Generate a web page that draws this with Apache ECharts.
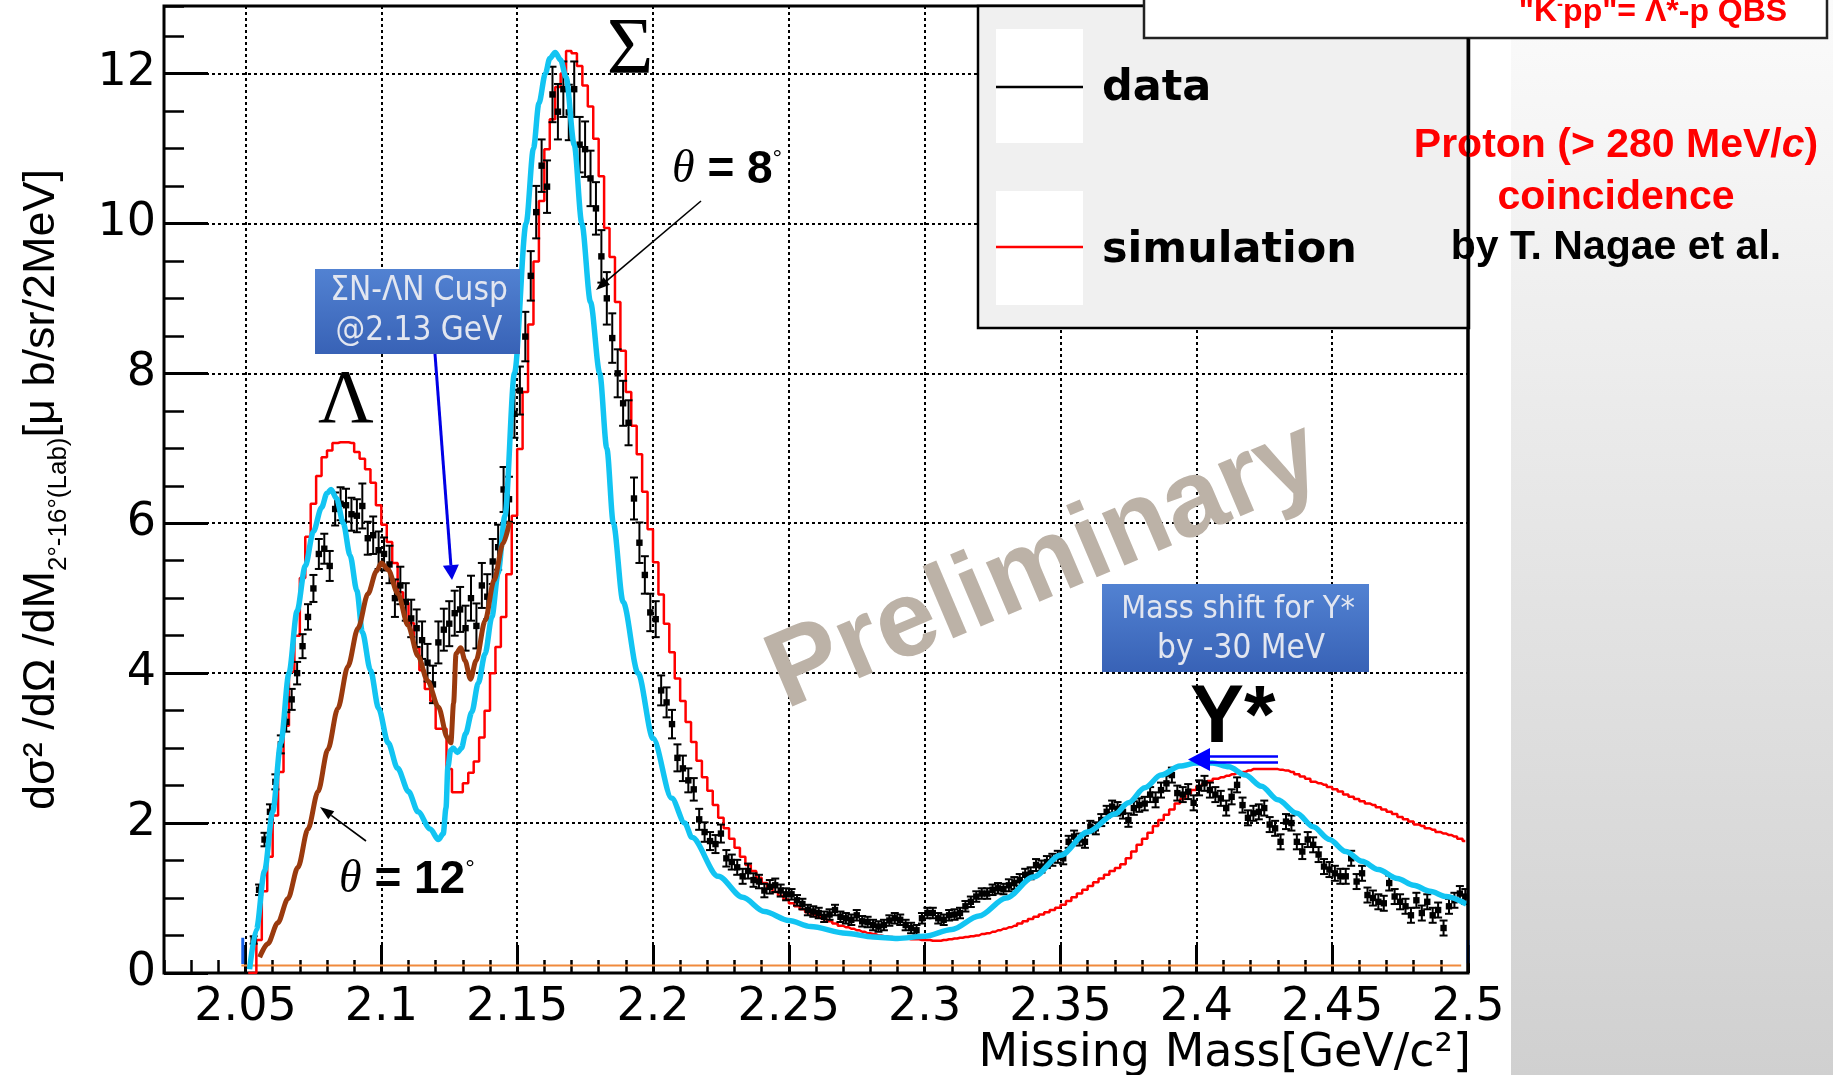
<!DOCTYPE html>
<html><head><meta charset="utf-8">
<script src="https://cdn.jsdelivr.net/npm/echarts@6/dist/echarts.min.js"></script>
<style>html,body{margin:0;padding:0;background:#fff}#chart{width:1833px;height:1075px}</style>
</head><body><div id="chart"></div>
<script>
// ---------- DATA (x in MeV, 2 MeV bins) ----------
const BIN_FIRST = 2051;   // centre of first bin [MeV]
const BIN_WIDTH = 2;      // bin width [MeV]

// measured dσ/dΩ/dM (data points)
const dataValues = [
  null,0.44,1.11,1.78,2.15,2.55,3.05,3.35,3.65,4.00,
  4.36,4.75,5.13,5.59,5.66,5.43,6.19,6.26,6.24,6.12,
  6.10,6.23,5.80,5.84,5.64,5.59,5.45,5.00,5.17,4.95,
  4.73,4.60,4.44,4.14,3.85,4.41,4.58,4.66,4.80,4.85,
  4.60,5.00,4.63,5.17,5.02,5.49,5.68,6.45,6.32,7.46,
  7.77,8.49,9.30,10.15,10.77,10.49,11.72,11.49,11.79,11.48,
  11.79,11.05,10.99,10.60,10.20,9.56,9.00,8.47,8.00,7.60,
  7.34,6.33,5.74,5.31,4.81,4.72,3.77,3.61,3.32,2.87,
  2.73,2.57,2.45,2.05,1.88,1.76,1.72,1.86,1.53,1.48,
  1.41,1.29,1.36,1.24,1.22,1.10,1.15,1.17,1.10,1.05,
  1.05,0.97,0.92,0.84,0.82,0.80,0.75,0.78,0.84,0.75,
  0.73,0.71,0.77,0.69,0.68,0.64,0.62,0.64,0.70,0.73,
  0.71,0.64,0.60,0.57,0.73,0.80,0.80,0.73,0.71,0.77,
  0.78,0.80,0.89,0.95,1.02,1.06,1.06,1.11,1.13,1.12,
  1.17,1.20,1.24,1.31,1.33,1.44,1.42,1.48,1.51,1.55,
  1.53,1.75,1.82,1.78,1.75,1.95,1.93,2.04,2.15,2.22,
  2.19,2.15,2.04,2.20,2.24,2.26,2.38,2.31,2.44,2.53,
  2.64,2.40,2.38,2.42,2.27,2.47,2.53,2.44,2.38,2.33,
  2.20,2.35,2.51,2.24,2.07,2.13,2.15,2.20,1.98,1.93,
  1.75,2.02,2.00,1.75,1.62,1.78,1.71,1.58,1.42,1.38,
  1.33,1.29,1.29,1.53,1.22,1.33,1.04,1.00,0.95,0.93,
  1.20,1.02,0.95,0.89,0.77,0.97,0.80,0.95,0.77,0.84,
  0.60,0.89,0.97,1.06,1.02
];
// statistical errors of the data points
const dataErrors = [
  0,0.05,0.07,0.09,0.10,0.10,0.12,0.13,0.14,0.15,
  0.16,0.17,0.18,0.20,0.20,0.20,0.22,0.22,0.22,0.22,
  0.22,0.30,0.22,0.25,0.25,0.22,0.25,0.25,0.25,0.25,
  0.25,0.25,0.25,0.25,0.25,0.28,0.28,0.30,0.30,0.30,
  0.30,0.30,0.30,0.30,0.30,0.30,0.30,0.30,0.30,0.32,
  0.32,0.33,0.33,0.35,0.35,0.35,0.37,0.37,0.37,0.37,
  0.37,0.37,0.37,0.37,0.35,0.35,0.35,0.33,0.32,0.30,
  0.30,0.28,0.27,0.25,0.25,0.24,0.20,0.20,0.19,0.18,
  0.17,0.16,0.15,0.14,0.13,0.12,0.12,0.12,0.11,0.10,
  0.10,0.10,0.10,0.09,0.09,0.09,0.09,0.09,0.08,0.08,
  0.07,0.07,0.07,0.07,0.07,0.07,0.07,0.07,0.07,0.07,
  0.07,0.07,0.07,0.07,0.07,0.07,0.07,0.07,0.07,0.07,
  0.07,0.07,0.07,0.07,0.07,0.07,0.07,0.07,0.07,0.07,
  0.07,0.07,0.07,0.07,0.07,0.07,0.07,0.07,0.07,0.07,
  0.08,0.08,0.08,0.08,0.08,0.08,0.08,0.08,0.08,0.08,
  0.08,0.08,0.08,0.08,0.08,0.08,0.08,0.08,0.08,0.08,
  0.09,0.09,0.09,0.09,0.09,0.09,0.10,0.10,0.10,0.10,
  0.10,0.10,0.10,0.10,0.10,0.10,0.10,0.10,0.10,0.10,
  0.10,0.10,0.10,0.10,0.10,0.10,0.10,0.10,0.10,0.10,
  0.10,0.10,0.10,0.10,0.10,0.10,0.10,0.10,0.10,0.10,
  0.10,0.10,0.10,0.10,0.10,0.10,0.10,0.10,0.10,0.10,
  0.10,0.10,0.10,0.10,0.10,0.10,0.10,0.10,0.10,0.10,
  0.10,0.10,0.10,0.10,0.10
];
// simulation histogram (red)
const simValues = [
  0,0,0.44,1.09,1.55,2.10,2.68,3.30,4.02,4.50,
  5.27,5.82,6.26,6.63,6.88,6.97,7.07,7.08,7.08,7.07,
  6.95,6.86,6.72,6.54,6.24,5.98,5.75,5.47,5.08,4.94,
  4.67,4.34,4.04,3.79,3.63,3.26,3.26,2.72,2.41,2.41,
  2.53,2.67,2.82,3.14,3.50,4.00,4.35,4.75,5.32,6.10,
  6.99,7.75,8.65,9.49,10.30,10.99,11.39,11.82,12.00,12.30,
  12.27,12.10,11.84,11.56,11.13,10.63,9.94,9.55,8.95,8.30,
  7.75,7.30,6.92,6.42,5.92,5.48,5.05,4.66,4.28,3.93,
  3.63,3.35,3.08,2.83,2.61,2.43,2.24,2.07,1.93,1.79,
  1.67,1.55,1.44,1.36,1.27,1.20,1.14,1.08,1.03,0.98,
  0.93,0.89,0.85,0.81,0.78,0.75,0.72,0.69,0.66,0.63,
  0.61,0.59,0.57,0.55,0.53,0.52,0.50,0.49,0.48,0.47,
  0.46,0.46,0.45,0.45,0.44,0.44,0.43,0.43,0.44,0.45,
  0.46,0.47,0.48,0.49,0.50,0.52,0.53,0.55,0.57,0.59,
  0.61,0.63,0.66,0.69,0.72,0.75,0.78,0.81,0.84,0.87,
  0.91,0.96,1.01,1.06,1.11,1.16,1.21,1.26,1.31,1.36,
  1.40,1.45,1.53,1.62,1.71,1.79,1.87,1.96,2.04,2.11,
  2.18,2.26,2.32,2.39,2.44,2.49,2.52,2.56,2.59,2.61,
  2.63,2.65,2.67,2.68,2.70,2.72,2.72,2.72,2.72,2.72,
  2.71,2.70,2.68,2.65,2.62,2.59,2.55,2.53,2.51,2.48,
  2.45,2.42,2.38,2.35,2.32,2.29,2.26,2.24,2.21,2.18,
  2.15,2.12,2.08,2.05,2.02,1.98,1.96,1.93,1.91,1.88,
  1.86,1.84,1.82,1.79,1.76
];
// calculation θ = 8° (cyan) [MeV, value]
const calcTheta8 = [
  [2051.5,0.05],[2054,0.58],[2057,1.36],[2060,2.15],[2063,3.07],[2066,4.0],[2069,4.83],[2072,5.43],
  [2075,5.89],[2078,6.21],[2080,6.40],[2081.5,6.45],[2083.5,6.33],[2086,6.0],[2088.5,5.57],[2091,5.10],
  [2093,4.55],[2096,4.04],[2099,3.53],[2102.5,3.07],[2106,2.73],[2110,2.42],[2113.5,2.15],[2118,1.92],
  [2121,1.78],[2122.8,1.86],[2123.8,2.2],[2124.5,2.75],[2125.5,2.97],[2126.5,3.0],[2128,2.94],[2129.5,3.0],
  [2131,3.19],[2133.3,3.48],[2135.7,3.87],[2138.2,4.26],[2140.7,4.75],[2143,5.34],[2145.5,6.1],[2149,8.0],
  [2153.3,10.0],[2156,11.0],[2158,11.6],[2160.4,12.0],[2162,12.2],[2164,12.28],[2166,12.18],[2168,11.95],
  [2171,11.05],[2173.8,10.0],[2177,8.95],[2180.4,8.0],[2183,7.0],[2185.4,6.0],[2189,4.95],[2194.5,4.0],
  [2200,3.13],[2206.9,2.33],[2211.7,2.0],[2214.3,1.81],[2224,1.29],[2233,1.01],[2241,0.82],[2250,0.70],
  [2258,0.62],[2271,0.53],[2281,0.48],[2290,0.46],[2300,0.49],[2310,0.58],[2320,0.76],[2330,1.0],
  [2340,1.28],[2350,1.57],[2360,1.88],[2370,2.12],[2375,2.27],[2381,2.47],[2387,2.64],[2394,2.76],
  [2400,2.80],[2406,2.80],[2412,2.75],[2418,2.64],[2424,2.49],[2430,2.31],[2437,2.13],[2443,1.95],
  [2449,1.78],[2455,1.62],[2461,1.49],[2467,1.38],[2474,1.26],[2480,1.17],[2486,1.09],[2492,1.02],[2499.4,0.92]
];
// calculation θ = 12° (brown)
const calcTheta12 = [
  [2055.2,0.21],[2058.2,0.39],[2061.9,0.67],[2065.6,0.99],[2069.3,1.41],[2073,1.92],[2076.7,2.42],
  [2080.3,2.98],[2084,3.53],[2087.7,4.09],[2091.4,4.60],[2095.1,5.06],[2098.2,5.36],[2100,5.47],
  [2102.5,5.38],[2106.1,5.06],[2109.8,4.64],[2113.5,4.23],[2117,3.9],[2121,3.55],[2124.3,3.14],
  [2125.6,3.07],[2126.6,3.6],[2127.5,4.26],[2129.2,4.34],[2130.8,4.17],[2132.8,3.92],[2134.9,4.17],
  [2138.2,4.7],[2141.5,5.24],[2144.8,5.73],[2147.2,6.02]
];
// auxiliary histogram lines
const zeroLine = [[2048.5,0.1],[2497.5,0.1]];
const edgeLow = [[2049,0.12],[2049,0.47]];
const edgeHigh = [[2500,0.13],[2500,0.44]];

// axes
const X_MIN = 2020, X_MAX = 2500;
const xMajorTicks = [2050,2100,2150,2200,2250,2300,2350,2400,2450,2500];
const X_MINOR_STEP = 10;
const Y_MIN = 0, Y_MAX = 12.9, Y_MAJOR_STEP = 2, Y_MINOR_STEP = 0.5;
const X_TITLE = 'Missing Mass[GeV/c²]';

// ---------- CHART ----------
const chart = echarts.init(document.getElementById('chart'), null, {renderer:'canvas'});

const dataPoints = [];
dataValues.forEach((v,i)=>{ if(v!==null) dataPoints.push([BIN_FIRST+i*BIN_WIDTH, v, dataErrors[i]]); });
const simLine = simValues.map((v,i)=>[BIN_FIRST+i*BIN_WIDTH, v]);

const gridStyle = {color:'#000', width:2, type:[3,3]};
const SANS = 'Liberation Sans, Arial, sans-serif';
const DEJ = 'DejaVu Sans, sans-serif';
const SERIF = 'Liberation Serif, Times New Roman, serif';

function arrow(x1,y1,x2,y2,color,w,hl,hw,z){
  const ang = Math.atan2(y2-y1,x2-x1);
  const bx = x2 - hl*Math.cos(ang), by = y2 - hl*Math.sin(ang);
  const px = -Math.sin(ang)*hw, py = Math.cos(ang)*hw;
  return [
    {type:'line', z:z, shape:{x1:x1,y1:y1,x2:bx,y2:by}, style:{stroke:color,lineWidth:w}},
    {type:'polygon', z:z, shape:{points:[[x2,y2],[bx+px,by+py],[bx-px,by-py]]}, style:{fill:color}}
  ];
}
const blueGrad = () => new echarts.graphic.LinearGradient(0,0,0,1,[{offset:0,color:'#5282d2'},{offset:1,color:'#3862b6'}]);

const graphics = [
  // right-hand grey panel
  {type:'rect', z:-10, shape:{x:1511,y:0,width:322,height:1075},
   style:{fill:new echarts.graphic.LinearGradient(0,0,0,1,[{offset:0,color:'#fbfbfb'},{offset:1,color:'#d0d0d0'}])}},
  // legend box
  {type:'rect', z:50, shape:{x:978,y:6,width:491,height:322}, style:{fill:'#f0f0f0',stroke:'#000',lineWidth:2.5}},
  {type:'rect', z:51, shape:{x:996,y:29,width:87,height:114}, style:{fill:'#fff'}},
  {type:'rect', z:51, shape:{x:996,y:191,width:87,height:114}, style:{fill:'#fff'}},
  {type:'line', z:52, shape:{x1:996,y1:87,x2:1083,y2:87}, style:{stroke:'#000',lineWidth:2.5}},
  {type:'line', z:52, shape:{x1:996,y1:247,x2:1083,y2:247}, style:{stroke:'#ff0000',lineWidth:2.5}},
  {type:'text', z:52, x:1102, y:89, style:{text:'data', font:'bold 43px DejaVu Sans', fill:'#000', verticalAlign:'middle'}},
  {type:'text', z:52, x:1102, y:251, style:{text:'simulation', font:'bold 43px DejaVu Sans', fill:'#000', verticalAlign:'middle'}},
  // top box
  {type:'rect', z:55, shape:{x:1144,y:-3,width:683,height:41}, style:{fill:'#fff',stroke:'#222',lineWidth:2.5}},
  {type:'text', z:56, x:1653, y:12, style:{text:'{t|"K}{s|-}{t|pp"= Λ*-p QBS}', align:'center', verticalAlign:'middle',
    rich:{t:{fontFamily:SANS,fontWeight:'bold',fontSize:32,fill:'#ff0000'},
          s:{fontFamily:SANS,fontWeight:'bold',fontSize:18,fill:'#ff0000',verticalAlign:'top'}}}},
  // right texts
  {type:'text', z:60, x:1616, y:146, style:{text:'{r|Proton (> 280 MeV/}{i|c}{r|)}', align:'center', verticalAlign:'middle',
    rich:{r:{fontFamily:SANS,fontWeight:'bold',fontSize:41,fill:'#ff0000'},
          i:{fontFamily:SANS,fontWeight:'bold',fontStyle:'italic',fontSize:41,fill:'#ff0000'}}}},
  {type:'text', z:60, x:1616, y:198, style:{text:'coincidence', align:'center', verticalAlign:'middle', font:'bold 41px Liberation Sans', fill:'#ff0000'}},
  {type:'text', z:60, x:1616, y:248, style:{text:'by T. Nagae et al.', align:'center', verticalAlign:'middle', font:'bold 41px Liberation Sans', fill:'#000'}},
  {type:'line', z:61, shape:{x1:1468,y1:38,x2:1468,y2:973}, style:{stroke:'#000',lineWidth:3}},
  // x-axis title
  {type:'text', z:60, x:1471, y:1054, style:{text:X_TITLE, align:'right', verticalAlign:'middle', font:'46px DejaVu Sans', fill:'#000'}},
  // peak labels
  {type:'text', z:60, x:630, y:52, style:{text:'Σ', align:'center', verticalAlign:'middle', font:'80px Liberation Serif', fill:'#000'}},
  {type:'text', z:60, x:346, y:402, style:{text:'Λ', align:'center', verticalAlign:'middle', font:'77px Liberation Serif', fill:'#000'}},
  {type:'text', z:60, x:1190, y:720, style:{text:'Y*', verticalAlign:'middle', font:'bold 81px Liberation Sans', fill:'#000'}},
  // theta labels
  {type:'text', z:60, x:672, y:170, style:{text:'{t|θ}{b| = 8}{d|°}', verticalAlign:'middle',
    rich:{t:{fontFamily:SERIF,fontStyle:'italic',fontSize:46,fill:'#000'},
          b:{fontFamily:SANS,fontWeight:'bold',fontSize:46,fill:'#000'},
          d:{fontFamily:SANS,fontSize:24,fill:'#000',verticalAlign:'top'}}}},
  {type:'text', z:60, x:339, y:880, style:{text:'{t|θ}{b| = 12}{d|°}', verticalAlign:'middle',
    rich:{t:{fontFamily:SERIF,fontStyle:'italic',fontSize:46,fill:'#000'},
          b:{fontFamily:SANS,fontWeight:'bold',fontSize:46,fill:'#000'},
          d:{fontFamily:SANS,fontSize:24,fill:'#000',verticalAlign:'top'}}}},
  ...arrow(701,201,596,290,'#000',1.6,14,5,60),
  ...arrow(366,841,320,807,'#000',1.6,14,5,60),
  // cusp box
  {type:'rect', z:58, shape:{x:315,y:269,width:205,height:85}, style:{fill:blueGrad()}},
  {type:'text', z:59, x:419, y:291, style:{text:'ΣN-ΛN Cusp', align:'center', verticalAlign:'middle', font:'33px "DejaVu Sans Condensed", "Open Sans", sans-serif', fill:'#e2e6f0'}},
  {type:'text', z:59, x:419, y:331, style:{text:'@2.13 GeV', align:'center', verticalAlign:'middle', font:'33px "DejaVu Sans Condensed", "Open Sans", sans-serif', fill:'#e2e6f0'}},
  ...arrow(435,354,452,580,'#0000e6',3,15,8,58),
  // mass shift box
  {type:'rect', z:58, shape:{x:1102,y:584,width:267,height:88}, style:{fill:blueGrad()}},
  {type:'text', z:59, x:1238, y:610, style:{text:'Mass shift for Y*', align:'center', verticalAlign:'middle', font:'32px "DejaVu Sans Condensed", "Open Sans", sans-serif', fill:'#e2e6f0'}},
  {type:'text', z:59, x:1241, y:649, style:{text:'by -30 MeV', align:'center', verticalAlign:'middle', font:'33px "DejaVu Sans Condensed", "Open Sans", sans-serif', fill:'#e2e6f0'}},
  // Y* shift double arrow
  {type:'line', z:60, shape:{x1:1206,y1:756.5,x2:1278,y2:756.5}, style:{stroke:'#0000ff',lineWidth:2.5}},
  {type:'line', z:60, shape:{x1:1206,y1:762.5,x2:1278,y2:762.5}, style:{stroke:'#0000ff',lineWidth:2.5}},
  {type:'polygon', z:60, shape:{points:[[1188,759.5],[1210,748],[1210,771]]}, style:{fill:'#0000ff'}},
  // watermark
  {type:'text', z:40, x:1045, y:567, rotation:23*Math.PI/180,
   style:{text:'Preliminary', align:'center', verticalAlign:'middle', font:'bold 108px Liberation Sans', fill:'#bcb2a7'}}
];

const option = {
  animation:false,
  backgroundColor:'#ffffff',
  grid:{left:164, right:365, top:6, bottom:102, show:true, borderColor:'#000', borderWidth:3,
        backgroundColor:'transparent', containLabel:false, outerBoundsMode:'none'},
  xAxis:[
    {type:'value', min:X_MIN, max:X_MAX, position:'bottom',
     axisLine:{show:false},
     axisTick:{show:true, inside:true, length:28, lineStyle:{color:'#000',width:3}, customValues:xMajorTicks},
     axisLabel:{show:true, customValues:xMajorTicks, margin:12, color:'#000', fontFamily:DEJ, fontSize:46,
                formatter:v=>String(v/1000)},
     splitLine:{show:true, lineStyle:gridStyle}},
    {type:'value', min:X_MIN, max:X_MAX, interval:X_MINOR_STEP, position:'bottom',
     axisLine:{show:false}, axisLabel:{show:false}, splitLine:{show:false},
     axisTick:{show:true, inside:true, length:13, lineStyle:{color:'#000',width:2.5}}}
  ],
  yAxis:[
    {type:'value', min:Y_MIN, max:Y_MAX, interval:Y_MAJOR_STEP, position:'left',
     axisLine:{show:false},
     axisTick:{show:true, inside:true, length:44, lineStyle:{color:'#000',width:3}},
     axisLabel:{show:true, margin:8, color:'#000', fontFamily:DEJ, fontSize:46, showMaxLabel:false},
     splitLine:{show:true, lineStyle:gridStyle},
     name:'{a|dσ² /dΩ /dM}{s|2°-16°(Lab)}{a|[μ b/sr/2MeV]}', nameLocation:'middle', nameRotate:90, nameGap:92,
     nameTextStyle:{rich:{
       a:{fontFamily:SANS, fontSize:45, color:'#000', lineHeight:60, verticalAlign:'middle'},
       s:{fontFamily:SANS, fontSize:26, color:'#000', lineHeight:60, verticalAlign:'bottom'}}}},
    {type:'value', min:Y_MIN, max:Y_MAX, interval:Y_MINOR_STEP, position:'left',
     axisLine:{show:false}, axisLabel:{show:false}, splitLine:{show:false},
     axisTick:{show:true, inside:true, length:20, lineStyle:{color:'#000',width:2.5}}}
  ],
  series:[
    {type:'line', name:'baseline', data:zeroLine, symbol:'none', lineStyle:{color:'#f08a3c',width:2}, z:1, silent:true},
    {type:'line', name:'edgeLow', data:edgeLow, symbol:'none', lineStyle:{color:'#1560e8',width:3}, z:1, silent:true},
    {type:'line', name:'edgeHigh', data:edgeHigh, symbol:'none', lineStyle:{color:'#1560e8',width:3}, z:1, silent:true},
    {type:'line', name:'simulation', data:simLine, step:'middle', symbol:'none', lineStyle:{color:'#ff0000',width:2.5}, z:2},
    {type:'custom', name:'data', data:dataPoints, z:3, clip:true,
     encode:{x:0,y:1},
     renderItem:function(params, api){
       const x = api.value(0), y = api.value(1), e = api.value(2);
       const c = api.coord([x,y]);
       const t = api.coord([x,y+e]);
       const b = api.coord([x,Math.max(0,y-e)]);
       const hw = 4, s = 3.2;
       return {type:'group', children:[
         {type:'line', shape:{x1:c[0],y1:t[1],x2:c[0],y2:b[1]}, style:{stroke:'#000',lineWidth:2}},
         {type:'line', shape:{x1:c[0]-hw,y1:t[1],x2:c[0]+hw,y2:t[1]}, style:{stroke:'#000',lineWidth:2}},
         {type:'line', shape:{x1:c[0]-hw,y1:b[1],x2:c[0]+hw,y2:b[1]}, style:{stroke:'#000',lineWidth:2}},
         {type:'rect', shape:{x:c[0]-s,y:c[1]-s,width:2*s,height:2*s}, style:{fill:'#000'}}
       ]};
     }},
    {type:'line', name:'theta8', data:calcTheta8, symbol:'none', smooth:0.3, smoothMonotone:'x', lineStyle:{color:'#12c4f2',width:5.5}, z:4},
    {type:'line', name:'theta12', data:calcTheta12, symbol:'none', smooth:0.3, smoothMonotone:'x', lineStyle:{color:'#9a3a0e',width:5}, z:5}
  ],
  graphic:{elements:graphics}
};
chart.setOption(option);
</script></body></html>
